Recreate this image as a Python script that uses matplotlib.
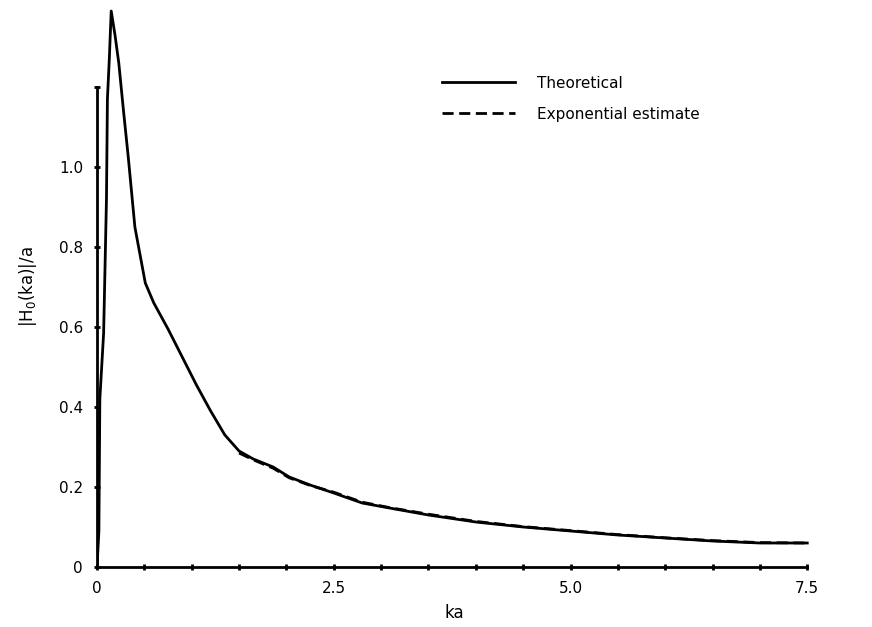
import matplotlib
matplotlib.use("Agg")
import matplotlib.pyplot as plt

ka_theory = [0.0, 0.02, 0.03, 0.07, 0.10, 0.11, 0.13, 0.15, 0.19, 0.23, 0.28,
             0.33, 0.40, 0.51, 0.60, 0.75, 0.90, 1.05, 1.2, 1.35, 1.5, 1.65,
             1.86, 2.03, 2.25, 2.5, 2.8, 3.1, 3.5, 4.0, 4.5, 5.0, 5.5, 6.0,
             6.5, 7.0, 7.5]
h_theory = [0.0, 0.09, 0.42, 0.585, 0.92, 1.17, 1.27, 1.39, 1.33, 1.26, 1.14,
            1.025, 0.85, 0.71, 0.66, 0.595, 0.525, 0.455, 0.39, 0.33, 0.29,
            0.27, 0.25, 0.225, 0.205, 0.185, 0.16, 0.147, 0.13, 0.1125, 0.10,
            0.09, 0.08, 0.0725, 0.065, 0.06, 0.06]

# exponential estimate, only distinguishable on the tail
ka_expo = [1.5, 1.65, 1.86, 2.03, 2.25, 2.5, 2.8, 3.1, 3.5, 4.0, 4.5, 5.0,
           5.5, 6.0, 6.5, 7.0, 7.5]
h_expo = [0.285, 0.268, 0.247, 0.223, 0.204, 0.187, 0.162, 0.148, 0.132,
          0.114, 0.101, 0.091, 0.081, 0.073, 0.066, 0.061, 0.06]

x_ticks = [0, 2.5, 5.0, 7.5]
x_labels = ["0", "2.5", "5.0", "7.5"]
y_ticks = [0, 0.2, 0.4, 0.6, 0.8, 1.0]
y_labels = ["0", "0.2", "0.4", "0.6", "0.8", "1.0"]

fig = plt.figure(figsize=(8.72, 6.27), dpi=100)
ax = fig.add_axes([97 / 872, 60 / 627, 715 / 872, 560 / 627])

ax.plot(ka_theory, h_theory, color="black", lw=2.0, solid_joinstyle="round",
        label="Theoretical")
ax.plot(ka_expo, h_expo, color="black", lw=2.0, ls=(0, (4, 2)),
        label="Exponential estimate")

ax.set_xlim(0, 7.55)
ax.set_ylim(0, 1.4)
for side in ("top", "right"):
    ax.spines[side].set_visible(False)
ax.spines["left"].set_bounds(0, 1.2)
ax.spines["bottom"].set_bounds(0, 7.5)
for side in ("left", "bottom"):
    ax.spines[side].set_linewidth(2.0)

ax.set_xticks(x_ticks)
ax.set_xticklabels(x_labels)
ax.set_xticks([i * 0.5 for i in range(16)], minor=True)
ax.set_yticks(y_ticks + [1.2])
ax.set_yticklabels(y_labels + [""])
ax.tick_params(direction="inout", length=4, width=2, labelsize=11, pad=8)
ax.tick_params(which="minor", direction="inout", length=4, width=2)

ax.set_xlabel("ka", fontsize=12, labelpad=6)
ax.set_ylabel(r"|H$_0$(ka)|/a", fontsize=12, labelpad=14)

ax.legend(loc="upper left", bbox_to_anchor=(0.463, 0.902), frameon=False,
          fontsize=11, handlelength=4.8, handletextpad=1.4, labelspacing=1.05)

fig.savefig("out.png", dpi=100)
